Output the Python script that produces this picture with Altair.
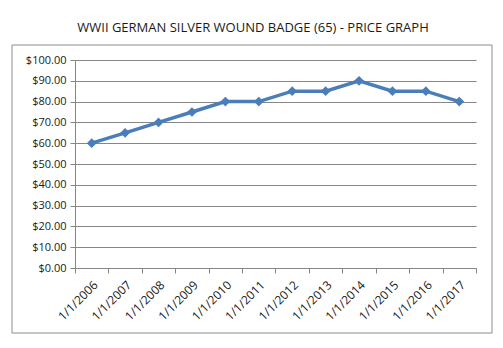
import altair as alt
import pandas as pd

dates = ["1/1/2006", "1/1/2007", "1/1/2008", "1/1/2009", "1/1/2010", "1/1/2011",
         "1/1/2012", "1/1/2013", "1/1/2014", "1/1/2015", "1/1/2016", "1/1/2017"]
prices = [60, 65, 70, 75, 80, 80, 85, 85, 90, 85, 85, 80]
title_text = "WWII GERMAN SILVER WOUND BADGE (65) - PRICE GRAPH"

df = pd.DataFrame({"date": dates, "price": prices})
FONT = "Open Sans"

frame = alt.Chart(pd.DataFrame({"a": [0]})).mark_rect(
    fill="white", fillOpacity=0, stroke="#8c8c8c", strokeWidth=1
).encode(
    x=alt.value(-63), x2=alt.value(417), y=alt.value(-15), y2=alt.value(273)
)

title = alt.Chart(pd.DataFrame({"t": [title_text]})).mark_text(
    font=FONT, fontSize=13, color="#1a1a1a", align="center", baseline="middle"
).encode(
    text="t:N", x=alt.value(178), y=alt.value(-32)
)

base = alt.Chart(df).encode(
    x=alt.X("date:O", sort=dates, title=None,
            scale=alt.Scale(paddingInner=0, paddingOuter=0),
            axis=alt.Axis(labelAngle=-45, labelAlign="right", labelBaseline="top",
                          labelFont=FONT, labelFontSize=12, labelColor="#1a1a1a",
                          labelPadding=6, tickBand="extent", tickSize=5,
                          tickColor="#868686", domainColor="#868686", grid=False)),
    y=alt.Y("price:Q", title=None,
            scale=alt.Scale(domain=[0, 100], nice=False),
            axis=alt.Axis(format="$.2f", tickCount=11, values=list(range(0, 101, 10)),
                          labelFont=FONT, labelFontSize=11, labelColor="#1a1a1a",
                          labelPadding=4, tickSize=5, tickColor="#868686",
                          domainColor="#868686", gridColor="#868686", grid=True)),
)

line = base.mark_line(color="#4A7EBB", strokeWidth=3.5)
points = base.mark_point(shape="diamond", filled=True, size=95, color="#4A7EBB", opacity=1)

chart = alt.layer(frame, title, line, points).properties(
    width=401, height=208,
    autosize=alt.AutoSizeParams(type="none"),
    padding={"left": 75, "top": 60, "right": 27, "bottom": 80},
    background="white",
).configure_view(stroke=None)

chart.save("out.html", embed_options={"renderer": "svg", "actions": False})
